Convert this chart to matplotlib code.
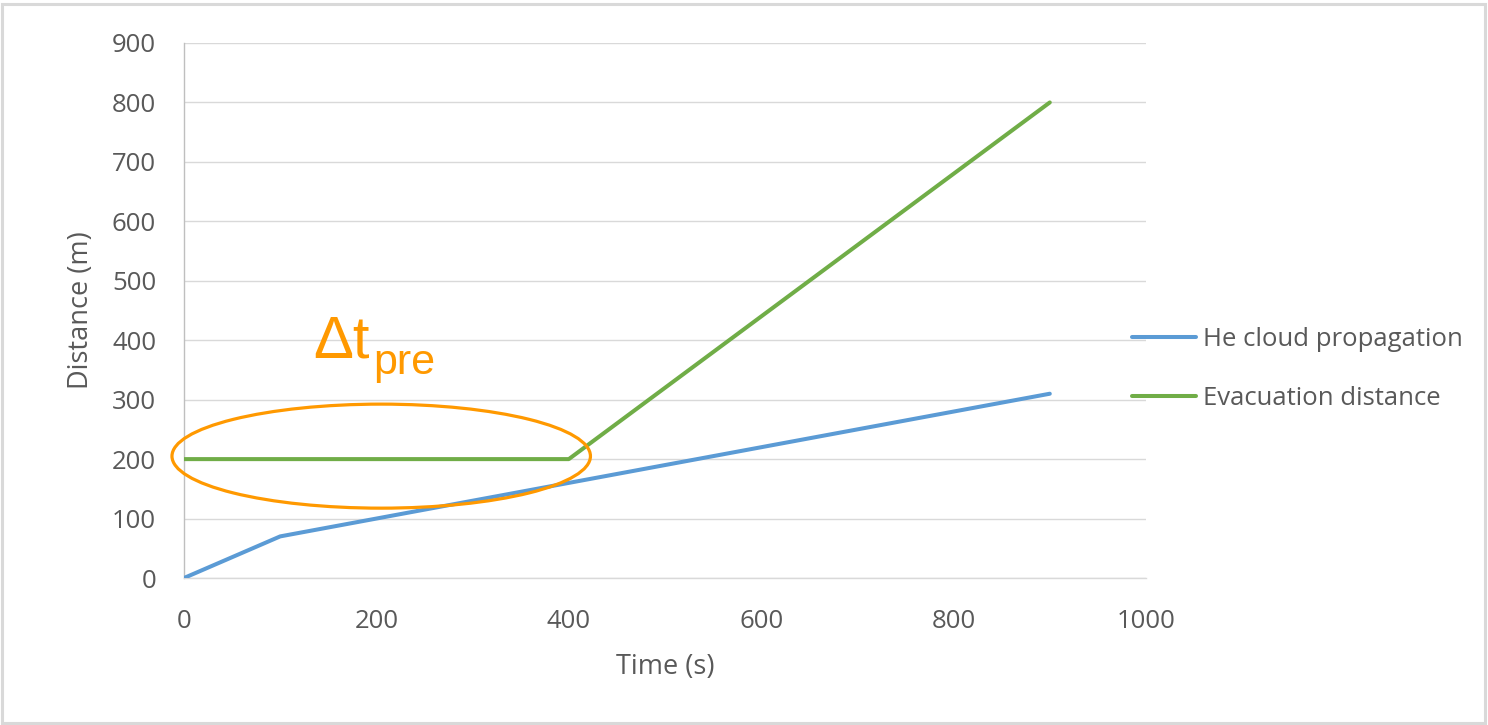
import matplotlib
matplotlib.use("Agg")
import matplotlib.pyplot as plt
from matplotlib.patches import Ellipse, Rectangle

# Data
he_time = [0, 100, 900]
he_dist = [0, 70, 310]
evac_time = [0, 400, 900]
evac_dist = [200, 200, 800]
series_labels = ["He cloud propagation", "Evacuation distance"]
xticks = [0, 200, 400, 600, 800, 1000]
yticks = [0, 100, 200, 300, 400, 500, 600, 700, 800, 900]

W, H = 1488, 725
fig = plt.figure(figsize=(W / 100, H / 100), dpi=100)
plt.rcParams['font.family'] = ['Open Sans', 'DejaVu Sans']

L, R, B, T = 184, 1146, 578, 43
ax = fig.add_axes([L / W, 1 - B / H, (R - L) / W, (B - T) / H])

grey_txt = '#595959'
ax.plot(he_time, he_dist, color='#5B9BD5', lw=2.9, label=series_labels[0],
        solid_capstyle='round', zorder=3)
ax.plot(evac_time, evac_dist, color='#70AD47', lw=2.9, label=series_labels[1],
        solid_capstyle='round', zorder=3)

ax.set_xlim(0, 1000)
ax.set_ylim(0, 900)
ax.set_xticks(xticks)
ax.set_yticks(yticks)
ax.tick_params(length=0, labelsize=18.5, labelcolor=grey_txt)
ax.tick_params(axis='y', pad=20)
ax.tick_params(axis='x', pad=22)
ax.grid(axis='y', color='#d9d9d9', lw=1.0)
ax.set_axisbelow(True)
for s in ['top', 'right']:
    ax.spines[s].set_visible(False)
ax.spines['left'].set_color('#bfbfbf')
ax.spines['bottom'].set_color('#d9d9d9')
ax.spines['left'].set_linewidth(1.0)
ax.spines['bottom'].set_linewidth(1.0)

ax.set_xlabel('Time (s)', fontsize=19.5, color=grey_txt, labelpad=14)
ax.set_ylabel('Distance (m)', fontsize=19.5, color=grey_txt, labelpad=12)

# Ellipse annotation
ell = Ellipse((205, 205), 435, 175, fill=False, edgecolor='#FF9900', lw=2.3,
              clip_on=False, zorder=4)
ax.add_patch(ell)

fig.text(313 / W, 1 - 358 / H, 'Δt', fontsize=43, color='#FF9900',
         family='Liberation Sans', va='baseline', ha='left')
fig.text(373 / W, 1 - 374 / H, 'pre', fontsize=31, color='#FF9900',
         family='Liberation Sans', va='baseline', ha='left')

leg = ax.legend(loc='center left', bbox_to_anchor=(1114 / W, 1 - 369 / H),
                bbox_transform=fig.transFigure, frameon=False, fontsize=18.5,
                handlelength=2.5, handletextpad=0.25, labelspacing=1.3,
                labelcolor=grey_txt, borderpad=0.2)

fig.patches.append(Rectangle((2 / W, 2 / H), (W - 5) / W, (H - 6) / H,
                             transform=fig.transFigure, fill=False,
                             edgecolor='#d9d9d9', lw=2.2))

fig.savefig('out.png', dpi=100)
